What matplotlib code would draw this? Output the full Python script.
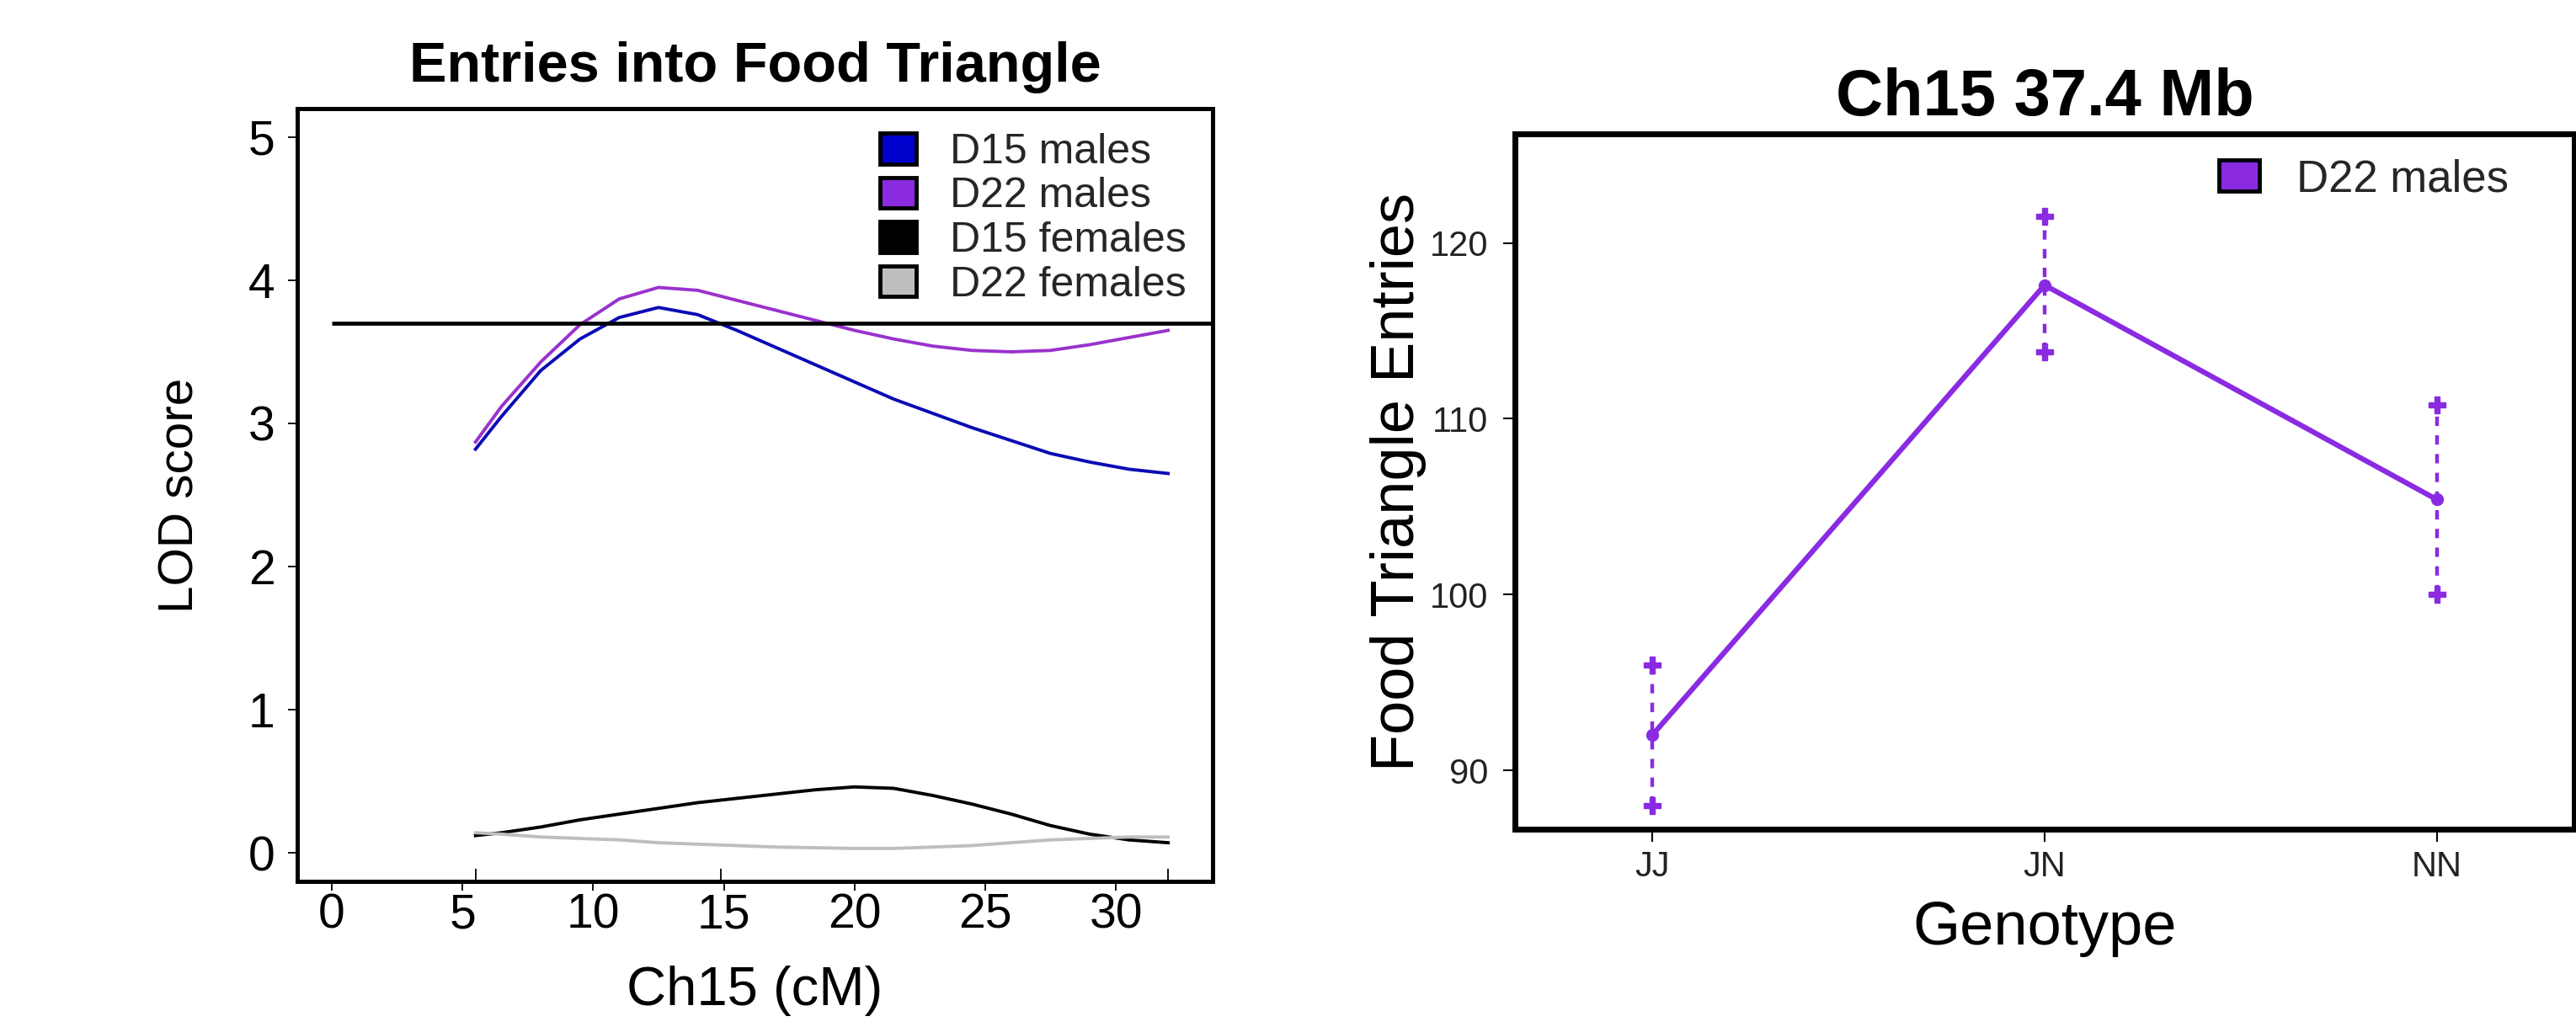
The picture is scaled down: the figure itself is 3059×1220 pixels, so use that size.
import numpy as np
import matplotlib
matplotlib.use('Agg')
import matplotlib.pyplot as plt
from matplotlib.patches import Patch

plt.rcParams['font.family'] = ['Liberation Sans', 'DejaVu Sans']

# left panel: LOD profiles along Ch15
pos_cm = [5.5, 6.5, 8, 9.5, 11, 12.5, 14, 15.5, 17, 18.5, 20, 21.5, 23, 24.5, 26, 27.5, 29, 30.5, 32]
lod_d15_males = [2.82, 3.05, 3.37, 3.59, 3.74, 3.81, 3.76, 3.65, 3.53, 3.41, 3.29, 3.17, 3.07, 2.97, 2.88, 2.79, 2.73, 2.68, 2.65]
lod_d22_males = [2.87, 3.12, 3.43, 3.69, 3.87, 3.95, 3.93, 3.86, 3.79, 3.72, 3.65, 3.59, 3.54, 3.51, 3.50, 3.51, 3.55, 3.60, 3.65]
lod_d15_females = [0.12, 0.14, 0.18, 0.23, 0.27, 0.31, 0.35, 0.38, 0.41, 0.44, 0.46, 0.45, 0.40, 0.34, 0.27, 0.19, 0.13, 0.09, 0.07]
lod_d22_females = [0.14, 0.13, 0.11, 0.10, 0.09, 0.07, 0.06, 0.05, 0.04, 0.035, 0.03, 0.03, 0.04, 0.05, 0.07, 0.09, 0.10, 0.11, 0.11]
threshold = 3.7
marker_cm = [5.5, 14.9, 32.0]

series_labels = ['D15 males', 'D22 males', 'D15 females', 'D22 females']
line_colors = ['#0B0BB5', '#9A32CD', '#000000', '#BEBEBE']
legend_colors = ['#0000CD', '#8A2BE2', '#000000', '#BEBEBE']

# right panel: effect plot at 37.4 Mb
genotypes = ['JJ', 'JN', 'NN']
means = [92.0, 117.6, 105.4]
upper = [96.0, 121.5, 110.8]
lower = [88.0, 113.8, 100.0]
purple = '#8A2BE2'

fig = plt.figure(figsize=(30.59, 12.2), dpi=100)

# ---- left panel ----
ax1 = fig.add_axes([0.1154, 0.1418, 0.3553, 0.7525])
for y, c in zip([lod_d15_males, lod_d22_males, lod_d15_females, lod_d22_females], line_colors):
    ax1.plot(pos_cm, y, color=c, lw=2.8)
ax1.set_xlim(-1.32, 33.7)
ax1.set_ylim(-0.2, 5.2)
ax1.hlines(threshold, 0, ax1.get_xlim()[1], color='black', lw=3.4)

ax1.set_xticks([0, 5, 10, 15, 20, 25, 30])
ax1.set_yticks([0, 1, 2, 3, 4, 5])
ax1.set_xticks(marker_cm, minor=True)
ax1.tick_params(axis='both', which='major', labelsize=41, length=8, width=1.3, direction='out')
ax1.tick_params(axis='x', which='major', pad=2)
ax1.tick_params(axis='y', which='major', pad=11)
ax1.tick_params(axis='x', which='minor', direction='in', length=11, width=1.3)
for s in ax1.spines.values():
    s.set_linewidth(3.6)

ax1.set_xlabel('Ch15 (cM)', fontsize=47, va='center')
ax1.xaxis.set_label_coords(0.5, -0.1416)
ax1.set_ylabel('LOD score', fontsize=42, va='center')
ax1.yaxis.set_label_coords(-0.127, 0.5)
ax1.text(0.5, 1.053, 'Entries into Food Triangle', transform=ax1.transAxes,
         ha='center', va='center', fontsize=48, fontweight='bold')

handles = [Patch(facecolor=c, edgecolor='black', lw=3.5, joinstyle='round') for c in legend_colors]
leg1 = ax1.legend(handles, series_labels, loc='upper left',
                  bbox_to_anchor=(1045 / 3059, 1 - 158 / 1220), bbox_transform=fig.transFigure,
                  frameon=False, fontsize=36, handlelength=0.85, handleheight=0.74,
                  handletextpad=0.8, labelspacing=0.13, borderpad=0, borderaxespad=0)
for t in leg1.get_texts():
    t.set_color('#262626')

# ---- right panel ----
ax2 = fig.add_axes([0.5881, 0.1926, 0.4112, 0.6770])
xpos = np.arange(1, len(genotypes) + 1)
ax2.plot(xpos, means, color=purple, lw=4.5, zorder=2)
for x, m, lo, hi in zip(xpos, means, lower, upper):
    ax2.plot([x, x], [lo, hi], color=purple, lw=3.2, linestyle=(0, (2.5, 2.5)), zorder=3)
    ax2.plot([x, x], [lo, hi], linestyle='none', marker='P', ms=15, color=purple, zorder=4)
ax2.plot(xpos, means, linestyle='none', marker='o', ms=10, color=purple, zorder=4)

ax2.set_xlim(0.65, 3.35)
ax2.set_ylim(86.65, 126.2)
ax2.set_xticks(xpos)
ax2.set_xticklabels(genotypes)
ax2.set_yticks([90, 100, 110, 120])
ax2.tick_params(axis='both', labelsize=30, labelcolor='#222222', width=1.5, direction='out')
ax2.tick_params(axis='x', length=11, pad=7)
ax2.tick_params(axis='y', length=10, pad=13)
for s in ax2.spines.values():
    s.set_linewidth(5)

ax2.set_xlabel('Genotype', fontsize=52, va='center')
ax2.xaxis.set_label_coords(0.5, -0.1429)
ax2.set_ylabel('Food Triangle Entries', fontsize=52, va='center')
ax2.yaxis.set_label_coords(-0.1105, 0.5)
ax2.text(0.5, 1.052, 'Ch15 37.4 Mb', transform=ax2.transAxes,
         ha='center', va='center', fontsize=56, fontweight='bold')

leg2 = ax2.legend([Patch(facecolor=purple, edgecolor='black', lw=3.5, joinstyle='round')], ['D22 males'],
                  loc='upper left', bbox_to_anchor=(2635 / 3059, 1 - 188 / 1220),
                  bbox_transform=fig.transFigure, frameon=False, fontsize=38,
                  handlelength=0.9, handleheight=0.72, handletextpad=0.85,
                  borderpad=0, borderaxespad=0)
for t in leg2.get_texts():
    t.set_color('#262626')

fig.savefig('out.png', dpi=100)
